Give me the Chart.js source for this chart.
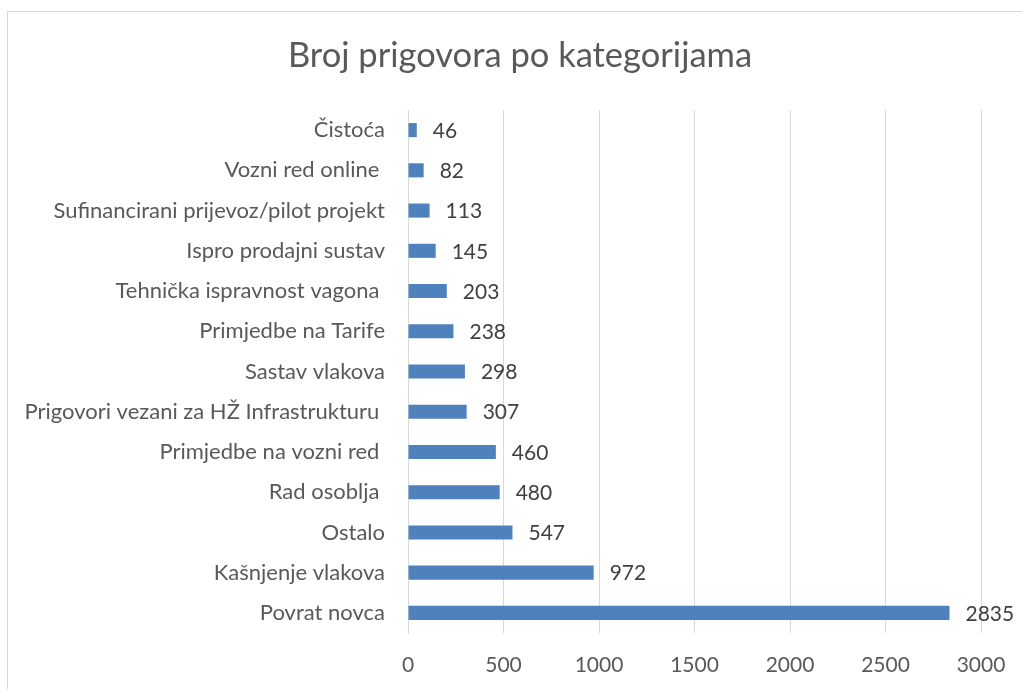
<!DOCTYPE html>
<html>
<head>
<meta charset="utf-8">
<script src="https://cdn.jsdelivr.net/npm/chart.js@4"></script>
<style>
    html, body { margin: 0; padding: 0; background: #fff; overflow: hidden; }
    #box {
        position: absolute; left: 7px; top: 11px; width: 1100px; height: 800px;
        border-left: 1px solid #d9d9d9; border-top: 1px solid #d9d9d9;
    }
    #wrap { position: absolute; left: 0; top: 0; width: 1022px; height: 689px; }
</style>
</head>
<body>
<div id="box"></div>
<div id="wrap"><canvas id="chart" width="1022" height="689"></canvas></div>
<script>
// categories top to bottom, as in the picture
const categories = [
    "Čistoća",
    "Vozni red online ",
    "Sufinancirani prijevoz/pilot projekt",
    "Ispro prodajni sustav",
    "Tehnička ispravnost vagona ",
    "Primjedbe na Tarife",
    "Sastav vlakova",
    "Prigovori vezani za HŽ Infrastrukturu ",
    "Primjedbe na vozni red ",
    "Rad osoblja ",
    "Ostalo",
    "Kašnjenje vlakova",
    "Povrat novca"
];
const complaints = [46, 82, 113, 145, 203, 238, 298, 307, 460, 480, 547, 972, 2835];
const xTicks = [0, 500, 1000, 1500, 2000, 2500, 3000];

const FONT = "Lato, 'Open Sans', sans-serif";
const GREY = "#595959";

// value labels to the right of each bar
const valueLabels = {
    id: "valueLabels",
    afterDatasetsDraw(chart) {
        const ctx = chart.ctx;
        const meta = chart.getDatasetMeta(0);
        ctx.save();
        ctx.font = "21px " + FONT;
        ctx.fillStyle = "#404040";
        ctx.textAlign = "left";
        ctx.textBaseline = "middle";
        meta.data.forEach((bar, i) => {
            ctx.fillText(String(complaints[i]), bar.x + 16, bar.y + 1);
        });
        ctx.restore();
    }
};

// the original title sits a bit right of the canvas centre
const shiftTitle = {
    id: "shiftTitle",
    afterLayout(chart) {
        if (chart.titleBlock) {
            chart.titleBlock.left = 59;
            chart.titleBlock.right = 981;
        }
    }
};

new Chart(document.getElementById("chart"), {
    type: "bar",
    data: {
        labels: categories,
        datasets: [{
            data: complaints,
            backgroundColor: "#4f81bd",
            borderWidth: 0,
            barPercentage: 0.35,
            categoryPercentage: 1
        }]
    },
    plugins: [valueLabels, shiftTitle],
    options: {
        indexAxis: "y",
        responsive: false,
        animation: false,
        layout: { padding: { left: 8, right: 41, top: 0, bottom: 0 } },
        plugins: {
            legend: { display: false },
            tooltip: { enabled: false },
            title: {
                display: true,
                text: "Broj prigovora po kategorijama",
                color: GREY,
                font: { family: FONT, size: 34.5, weight: "normal", lineHeight: 1.2 },
                padding: { top: 35, bottom: 33.6 }
            }
        },
        scales: {
            x: {
                min: 0,
                max: 3000,
                afterBuildTicks(scale) {
                    scale.ticks = xTicks.map(v => ({ value: v }));
                },
                afterFit(scale) {
                    scale.height = 56;
                    scale.paddingLeft = 0;
                    scale.paddingRight = 0;
                },
                grid: { color: "#d9d9d9", drawTicks: false },
                border: { display: false },
                ticks: {
                    color: GREY,
                    font: { family: FONT, size: 21 },
                    padding: 20,
                    callback: v => String(v)
                }
            },
            y: {
                afterFit(scale) { scale.width = 400; },
                grid: { display: false, drawTicks: false },
                border: { display: true, color: "#d9d9d9" },
                ticks: { color: GREY, font: { family: FONT, size: 22 }, padding: 23, autoSkip: false }
            }
        }
    }
});
</script>
</body>
</html>
